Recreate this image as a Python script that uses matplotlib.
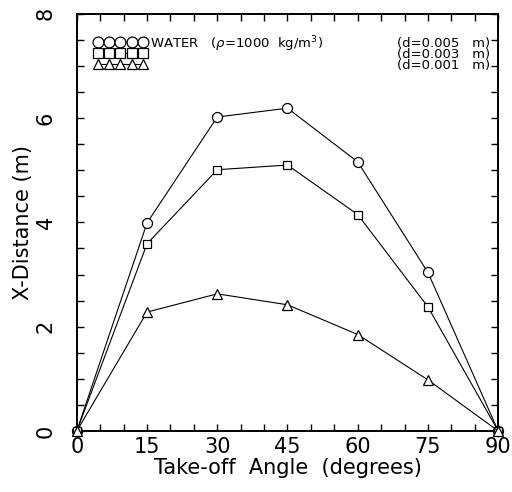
import matplotlib
matplotlib.use("Agg")
import matplotlib.pyplot as plt
from matplotlib.lines import Line2D

# take-off angle (degrees) and horizontal distance (m) for three droplet sizes
angles = [0, 15, 30, 45, 60, 75, 90]
x_d005 = [0.0, 3.99, 6.02, 6.19, 5.16, 3.04, 0.0]
x_d003 = [0.0, 3.59, 5.01, 5.10, 4.15, 2.38, 0.0]
x_d001 = [0.0, 2.28, 2.63, 2.42, 1.85, 0.98, 0.0]
fluid_label = "WATER   ($\\rho$=1000  kg/m$^3$)"
size_labels = ["(d=0.005   m)", "(d=0.003   m)", "(d=0.001   m)"]
xticks = [0, 15, 30, 45, 60, 75, 90]
yticks = [0, 2, 4, 6, 8]

plt.rcParams["font.family"] = ["DejaVu Sans"]

fig = plt.figure(figsize=(5.12, 4.92), dpi=100)
ax = fig.add_axes([0.150, 0.124, 0.823, 0.848])

series = [(x_d005, "o", 7.2), (x_d003, "s", 6.4), (x_d001, "^", 6.8)]
for ys, mk, ms in series:
    ax.plot(angles, ys, color="black", lw=0.8, marker=mk, ms=ms,
            mfc="white", mec="black", mew=0.9, clip_on=False, zorder=3)

ax.set_xlim(0, 90)
ax.set_ylim(0, 8)
ax.set_xticks(xticks)
ax.set_xticks(range(0, 91, 5), minor=True)
ax.set_yticks(yticks)
ax.set_yticks([v * 0.5 for v in range(17)], minor=True)
ax.tick_params(which="both", direction="in", top=True, right=True,
               length=5, width=1.0, labelsize=15, pad=4)
ax.tick_params(axis="y", pad=15)
for lab in ax.get_yticklabels():
    lab.set_rotation(90)
    lab.set_va("center")
for sp in ax.spines.values():
    sp.set_linewidth(1.4)

ax.set_xlabel("Take-off  Angle  (degrees)", fontsize=15, labelpad=1)
ax.set_ylabel("X-Distance (m)", fontsize=15, labelpad=2)

# legend: marker strips on the left, text placed beside them
handles = [Line2D([], [], color="black", lw=0.8, marker=mk, ms=7.8,
                  mfc="white", mec="black", mew=0.9) for _, mk, ms in series]
ax.legend(handles, ["", "", ""], loc="upper left", bbox_to_anchor=(0.043, 0.943),
          numpoints=5, handlelength=4.9, handletextpad=0.0, labelspacing=0.1,
          frameon=False, fontsize=7.5, borderaxespad=0.0, borderpad=0.0)
ax.text(0.173, 0.927, fluid_label, transform=ax.transAxes,
        ha="left", va="center", fontsize=9.5)
ax.text(0.981, 0.945, "\n".join(size_labels), transform=ax.transAxes,
        ha="right", va="top", fontsize=9.5, linespacing=0.82,
        multialignment="right")

fig.savefig("out.png", dpi=100)
